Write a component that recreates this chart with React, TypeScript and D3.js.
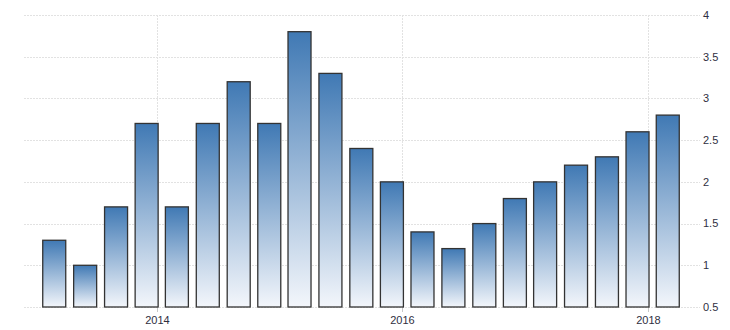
import React from "react";
import * as d3 from "d3";

const quarters: string[] = [
  "2013-03-01", "2013-06-01", "2013-09-01", "2013-12-01",
  "2014-03-01", "2014-06-01", "2014-09-01", "2014-12-01",
  "2015-03-01", "2015-06-01", "2015-09-01", "2015-12-01",
  "2016-03-01", "2016-06-01", "2016-09-01", "2016-12-01",
  "2017-03-01", "2017-06-01", "2017-09-01", "2017-12-01",
  "2018-03-01",
];
const values: number[] = [
  1.3, 1.0, 1.7, 2.7, 1.7, 2.7, 3.2, 2.7, 3.8, 3.3, 2.4,
  2.0, 1.4, 1.2, 1.5, 1.8, 2.0, 2.2, 2.3, 2.6, 2.8,
];
const yTicks: number[] = [0.5, 1, 1.5, 2, 2.5, 3, 3.5, 4];
const yearTicks: string[] = ["2014-01-01", "2016-01-01", "2018-01-01"];

const W = 730;
const H = 330;
const left = 24;
const right = 698;
const top = 15;
const bottom = 307;

export default function App() {
  const parse = (s: string) => new Date(s + "T00:00:00");
  const x = d3
    .scaleTime()
    .domain([parse("2012-12-01"), parse("2018-05-30")])
    .range([left, right]);
  const y = d3.scaleLinear().domain([0.5, 4]).range([bottom, top]);
  const barW = 23;

  return (
    <svg
      width={W}
      height={H}
      style={{ position: "absolute", left: 0, top: 0, fontFamily: "Arial, 'Liberation Sans', sans-serif" }}
    >
      <defs>
        <linearGradient id="barGrad" x1="0" y1="0" x2="0" y2="1">
          <stop offset="0%" stopColor="#4079b4" />
          <stop offset="100%" stopColor="#f3f6fb" />
        </linearGradient>
      </defs>
      <rect width={W} height={H} fill="#ffffff" />
      {yTicks.map((t) => (
        <g key={t}>
          <line
            x1={left}
            x2={right + 2}
            y1={Math.round(y(t)) + 0.5}
            y2={Math.round(y(t)) + 0.5}
            stroke="#e2e2e2"
            strokeWidth={1}
            strokeDasharray="2,1"
          />
          <text
            x={right + 5}
            y={y(t)}
            dy="0.35em"
            fontSize={11}
            fill="#2f2f3f"
          >
            {String(t)}
          </text>
        </g>
      ))}
      {yearTicks.map((d) => {
        const xx = Math.round(x(parse(d))) + 0.5;
        return (
          <g key={d}>
            <line x1={xx} x2={xx} y1={top} y2={bottom} stroke="#e2e2e2" strokeDasharray="2,1" />
            <line x1={xx} x2={xx} y1={bottom} y2={bottom + 5} stroke="#c8c8c8" />
            <text x={xx} y={bottom + 17} textAnchor="middle" fontSize={11} fill="#2f2f3f">
              {d.slice(0, 4)}
            </text>
          </g>
        );
      })}
      {quarters.map((q, i) => {
        const cx = x(parse(q));
        return (
          <rect
            key={q}
            x={cx - barW / 2}
            y={y(values[i])}
            width={barW}
            height={y(0.5) - y(values[i])}
            fill="url(#barGrad)"
            stroke="#333333"
            strokeWidth={1.3}
          />
        );
      })}
    </svg>
  );
}
